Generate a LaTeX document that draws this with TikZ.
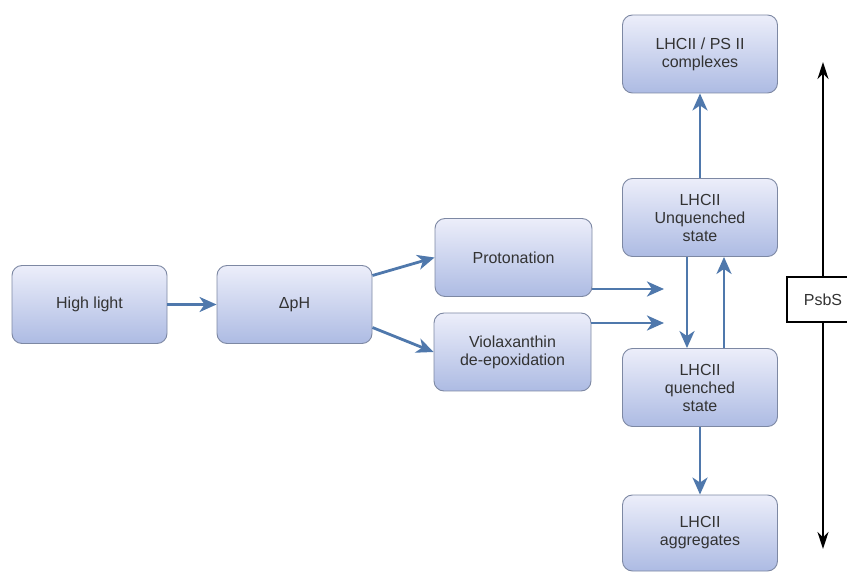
\documentclass[tikz,border=0pt]{standalone}
\usepackage{fontspec}
\setmainfont{Liberation Sans}
\definecolor{boxtop}{HTML}{ECEEFA}
\definecolor{boxbot}{HTML}{ADBBE3}
\definecolor{boxline}{HTML}{7D88A3}
\definecolor{flowblue}{HTML}{4F78AC}
\definecolor{boxtext}{HTML}{333333}
\usetikzlibrary{arrows.meta}

\begin{document}
\begin{tikzpicture}[x=1pt, y=-1pt, line width=0.9pt,
    font=\fontsize{16}{18}\selectfont,
    box/.style={draw=boxline, rounded corners=10pt, top color=boxtop,
      bottom color=boxbot, minimum width=155pt, minimum height=78pt,
      align=center, inner sep=0pt, text=boxtext},
    flow/.style={draw=flowblue, line width=2.8pt,
      -{Stealth[length=17pt, width=15pt, inset=5pt]}},
    bar/.style={draw=black, line width=2pt, -{Stealth[length=17pt, width=11pt]}},
    psbsbox/.style={draw=black, line width=2pt, fill=white,
      minimum width=72pt, minimum height=45pt, inner sep=0pt, text=boxtext}]
      \useasboundingbox (0,0) rectangle (847,572);

      % left chain: light -> pH -> two responses
      \node[box] (hl) at (89.5,304.5) {High light};
      \node[box] (dph) at (294.5,304.5) {ΔpH};
      \node[box, minimum width=157pt] (prot) at (513.5,257.5) {Protonation};
      \node[box, minimum width=157pt] (viol) at (512.5,352) {Violaxanthin\\de-epoxidation};

      % right column: LHCII states
      \node[box] (cplx) at (700,54) {LHCII / PS II\\complexes};
      \node[box] (unq) at (700,217.5) {LHCII\\Unquenched\\state};
      \node[box] (qnc) at (700,387.5) {LHCII\\quenched\\state};
      \node[box, minimum height=76pt] (aggr) at (700,533) {LHCII\\aggregates};

      % free ends of the two incoming arrows
      \coordinate (protend) at (664,289);
      \coordinate (violend) at (664,323);

      \draw[flow] (hl) -- (dph);
      \draw[flow] ([yshift=29pt]dph.east) -- (prot.west);
      \draw[flow] ([yshift=-23pt]dph.east) -- (viol.west);
      \draw[flow] ([yshift=-31.5pt]prot.east) -- (protend);
      \draw[flow] ([yshift=29pt]viol.east) -- (violend);

      \draw[flow] ([xshift=-13pt]unq.south) -- ([xshift=-13pt]qnc.north);
      \draw[flow] ([xshift=24pt]qnc.north) -- ([xshift=24pt]unq.south);
      \draw[flow] (unq) -- (cplx);
      \draw[flow] (qnc) -- (aggr);

      % PsbS scale on the right, box cut by the page edge
      \node[psbsbox] (psbs) at (823,299.5) {PsbS};
      \coordinate (ptop) at (823,62);
      \coordinate (pbot) at (823,549);
      \foreach \e in {ptop,pbot} {
        \draw[bar] (psbs) -- (\e);
      }

    \end{tikzpicture}
\end{document}
